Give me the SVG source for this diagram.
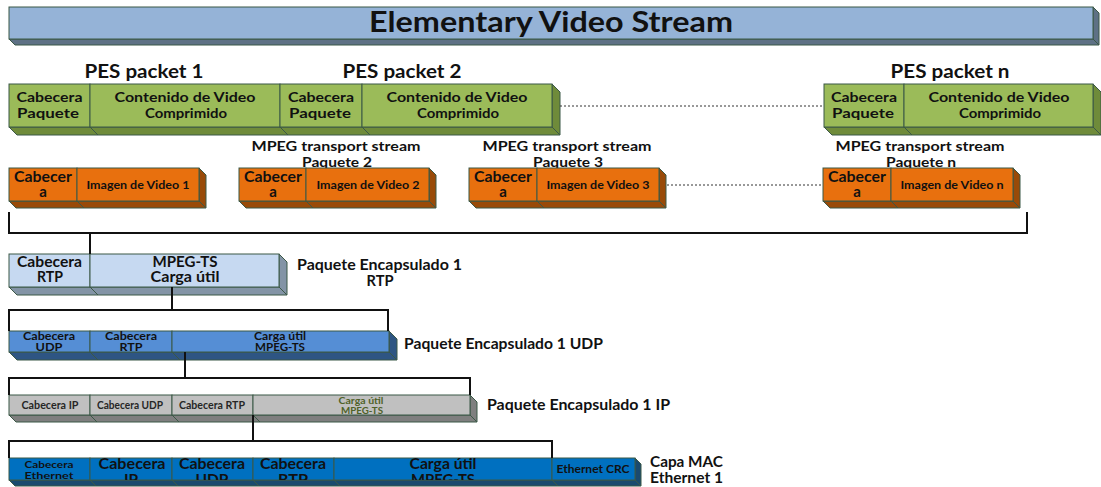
<svg xmlns="http://www.w3.org/2000/svg" width="1101" height="487" viewBox="0 0 1101 487">
  <style>
    text { font-family: Lato, "Open Sans", "Liberation Sans", sans-serif; font-weight: bold; fill: #111; text-anchor: middle; }
    .lbl { text-anchor: start; }
    .edge { stroke: #3B5846; stroke-width: 1; }
    .wire { fill: none; stroke: #111; stroke-width: 2; }
    .dots { fill: none; stroke: #333; stroke-width: 1; stroke-dasharray: 2 2; }
    .t-front { fill: #95B3D7; } .t-dark { fill: #5E7185; }
    .g-front { fill: #9BBB59; } .g-dark { fill: #6F8B3A; }
    .o-front { fill: #E8700E; } .o-dark { fill: #994A08; }
    .r-front { fill: #C6D9F1; } .r-dark { fill: #8394A6; }
    .u-front { fill: #558ED5; } .u-dark { fill: #2E5583; }
    .i-front { fill: #C0C0C0; } .i-dark { fill: #7F7F7F; }
    .e-front { fill: #0070C0; } .e-dark { fill: #1A4A6E; }
  </style>
  <defs>
    <clipPath id="eth-clip"><rect x="9" y="458" width="626" height="22"/></clipPath>
  </defs>

  <!-- top bar -->
  <g id="elementary-stream">
    <polygon class="t-dark edge" points="9,39 1093,39 1099,45 15,45"/>
    <polygon class="t-dark edge" points="1093,7 1099,13 1099,45 1093,39"/>
    <rect class="t-front edge" x="9" y="7" width="1084" height="32"/>
    <text x="551" y="32" font-size="28" textLength="364" lengthAdjust="spacingAndGlyphs">Elementary Video Stream</text>
  </g>

  <!-- PES packets 1 and 2 (joined) -->
  <g id="pes-1-2">
    <text x="144" y="78" font-size="19" textLength="119" lengthAdjust="spacingAndGlyphs">PES packet 1</text>
    <text x="402" y="78" font-size="19" textLength="119" lengthAdjust="spacingAndGlyphs">PES packet 2</text>
    <polygon class="g-dark edge" points="9,127 552,127 560,135 17,135"/>
    <polygon class="g-dark edge" points="552,84 560,92 560,135 552,127"/>
    <path class="edge" d="M90,127 L98,135 M280,127 L288,135 M362,127 L370,135"/>
    <rect class="g-front edge" x="9" y="84" width="81" height="43"/>
    <rect class="g-front edge" x="90" y="84" width="190" height="43"/>
    <rect class="g-front edge" x="280" y="84" width="82" height="43"/>
    <rect class="g-front edge" x="362" y="84" width="190" height="43"/>
    <text x="49.5" y="102" font-size="14" textLength="66" lengthAdjust="spacingAndGlyphs">Cabecera</text>
    <text x="48" y="118" font-size="14" textLength="62" lengthAdjust="spacingAndGlyphs">Paquete</text>
    <text x="185" y="102" font-size="14" textLength="141" lengthAdjust="spacingAndGlyphs">Contenido de Video</text>
    <text x="186" y="118" font-size="14" textLength="82" lengthAdjust="spacingAndGlyphs">Comprimido</text>
    <text x="321" y="102" font-size="14" textLength="66" lengthAdjust="spacingAndGlyphs">Cabecera</text>
    <text x="320" y="118" font-size="14" textLength="62" lengthAdjust="spacingAndGlyphs">Paquete</text>
    <text x="457" y="102" font-size="14" textLength="141" lengthAdjust="spacingAndGlyphs">Contenido de Video</text>
    <text x="458" y="118" font-size="14" textLength="82" lengthAdjust="spacingAndGlyphs">Comprimido</text>
  </g>

  <!-- PES packet n -->
  <g id="pes-n">
    <text x="950" y="78" font-size="19" textLength="119" lengthAdjust="spacingAndGlyphs">PES packet n</text>
    <polygon class="g-dark edge" points="824,127 1093,127 1101,135 832,135"/>
    <polygon class="g-dark edge" points="1093,84 1101,92 1101,135 1093,127"/>
    <path class="edge" d="M904,127 L912,135"/>
    <rect class="g-front edge" x="824" y="84" width="80" height="43"/>
    <rect class="g-front edge" x="904" y="84" width="189" height="43"/>
    <text x="864" y="102" font-size="14" textLength="66" lengthAdjust="spacingAndGlyphs">Cabecera</text>
    <text x="863" y="118" font-size="14" textLength="62" lengthAdjust="spacingAndGlyphs">Paquete</text>
    <text x="999" y="102" font-size="14" textLength="141" lengthAdjust="spacingAndGlyphs">Contenido de Video</text>
    <text x="1000" y="118" font-size="14" textLength="82" lengthAdjust="spacingAndGlyphs">Comprimido</text>
  </g>

  <!-- transport stream packets -->
  <g id="ts-1">
    <polygon class="o-dark edge" points="9,201 199,201 206,208 16,208"/>
    <polygon class="o-dark edge" points="199,168 206,175 206,208 199,201"/>
    <path class="edge" d="M77,201 L84,208"/>
    <rect class="o-front edge" x="9" y="168" width="68" height="33"/>
    <rect class="o-front edge" x="77" y="168" width="122" height="33"/>
    <text x="43" y="182" font-size="15" textLength="58" lengthAdjust="spacingAndGlyphs">Cabecer</text>
    <text x="43" y="197" font-size="15">a</text>
    <text x="138" y="189" font-size="11" textLength="103" lengthAdjust="spacingAndGlyphs">Imagen de Video 1</text>
  </g>

  <g id="ts-2">
    <text x="336" y="151" font-size="14" textLength="169" lengthAdjust="spacingAndGlyphs">MPEG transport stream</text>
    <text x="337" y="167" font-size="14" textLength="70" lengthAdjust="spacingAndGlyphs">Paquete 2</text>
    <polygon class="o-dark edge" points="239,201 429,201 436,208 246,208"/>
    <polygon class="o-dark edge" points="429,168 436,175 436,208 429,201"/>
    <path class="edge" d="M306,201 L313,208"/>
    <rect class="o-front edge" x="239" y="168" width="67" height="33"/>
    <rect class="o-front edge" x="306" y="168" width="123" height="33"/>
    <text x="273" y="182" font-size="15" textLength="58" lengthAdjust="spacingAndGlyphs">Cabecer</text>
    <text x="273" y="197" font-size="15">a</text>
    <text x="368" y="189" font-size="11" textLength="103" lengthAdjust="spacingAndGlyphs">Imagen de Video 2</text>
  </g>

  <g id="ts-3">
    <text x="567" y="151" font-size="14" textLength="169" lengthAdjust="spacingAndGlyphs">MPEG transport stream</text>
    <text x="568" y="167" font-size="14" textLength="70" lengthAdjust="spacingAndGlyphs">Paquete 3</text>
    <polygon class="o-dark edge" points="469,201 659,201 666,208 476,208"/>
    <polygon class="o-dark edge" points="659,168 666,175 666,208 659,201"/>
    <path class="edge" d="M537,201 L544,208"/>
    <rect class="o-front edge" x="469" y="168" width="68" height="33"/>
    <rect class="o-front edge" x="537" y="168" width="122" height="33"/>
    <text x="503" y="182" font-size="15" textLength="58" lengthAdjust="spacingAndGlyphs">Cabecer</text>
    <text x="503" y="197" font-size="15">a</text>
    <text x="598" y="189" font-size="11" textLength="103" lengthAdjust="spacingAndGlyphs">Imagen de Video 3</text>
  </g>

  <g id="ts-n">
    <text x="920" y="151" font-size="14" textLength="169" lengthAdjust="spacingAndGlyphs">MPEG transport stream</text>
    <text x="921" y="167" font-size="14" textLength="70" lengthAdjust="spacingAndGlyphs">Paquete n</text>
    <polygon class="o-dark edge" points="823,201 1013,201 1020,208 830,208"/>
    <polygon class="o-dark edge" points="1013,168 1020,175 1020,208 1013,201"/>
    <path class="edge" d="M891,201 L898,208"/>
    <rect class="o-front edge" x="823" y="168" width="68" height="33"/>
    <rect class="o-front edge" x="891" y="168" width="122" height="33"/>
    <text x="857" y="182" font-size="15" textLength="58" lengthAdjust="spacingAndGlyphs">Cabecer</text>
    <text x="857" y="197" font-size="15">a</text>
    <text x="952" y="189" font-size="11" textLength="103" lengthAdjust="spacingAndGlyphs">Imagen de Video n</text>
  </g>

  <!-- RTP packet -->
  <g id="rtp">
    <polygon class="r-dark edge" points="9,287 279,287 287,295 17,295"/>
    <polygon class="r-dark edge" points="279,254 287,262 287,295 279,287"/>
    <path class="edge" d="M90,287 L98,295"/>
    <rect class="r-front edge" x="9" y="254" width="81" height="33"/>
    <rect class="r-front edge" x="90" y="254" width="189" height="33"/>
    <text x="49.5" y="267" font-size="15" textLength="65" lengthAdjust="spacingAndGlyphs">Cabecera</text>
    <text x="50" y="282" font-size="15" textLength="26" lengthAdjust="spacingAndGlyphs">RTP</text>
    <text x="185" y="267" font-size="15" textLength="65" lengthAdjust="spacingAndGlyphs">MPEG-TS</text>
    <text x="185" y="282" font-size="15" textLength="69" lengthAdjust="spacingAndGlyphs">Carga útil</text>
    <text class="lbl" x="297" y="270" font-size="15" textLength="165" lengthAdjust="spacingAndGlyphs">Paquete Encapsulado 1</text>
    <text x="380" y="286" font-size="15" textLength="27" lengthAdjust="spacingAndGlyphs">RTP</text>
  </g>

  <!-- UDP packet -->
  <g id="udp">
    <polygon class="u-dark edge" points="9,352 389,352 397,360 17,360"/>
    <polygon class="u-dark edge" points="389,331 397,339 397,360 389,352"/>
    <path class="edge" d="M90,352 L98,360 M172,352 L180,360"/>
    <rect class="u-front edge" x="9" y="331" width="81" height="21"/>
    <rect class="u-front edge" x="90" y="331" width="82" height="21"/>
    <rect class="u-front edge" x="172" y="331" width="217" height="21"/>
    <text x="49" y="340" font-size="11" textLength="52" lengthAdjust="spacingAndGlyphs">Cabecera</text>
    <text x="49" y="351" font-size="11" textLength="27" lengthAdjust="spacingAndGlyphs">UDP</text>
    <text x="131" y="340" font-size="11" textLength="52" lengthAdjust="spacingAndGlyphs">Cabecera</text>
    <text x="131" y="351" font-size="11" textLength="23" lengthAdjust="spacingAndGlyphs">RTP</text>
    <text x="280" y="340" font-size="11" textLength="52" lengthAdjust="spacingAndGlyphs">Carga útil</text>
    <text x="280" y="351" font-size="11" textLength="50" lengthAdjust="spacingAndGlyphs">MPEG-TS</text>
    <text class="lbl" x="404" y="349" font-size="15" textLength="199" lengthAdjust="spacingAndGlyphs">Paquete Encapsulado 1 UDP</text>
  </g>

  <!-- IP packet -->
  <g id="ip">
    <polygon class="i-dark edge" points="9,415 470,415 477,422 16,422"/>
    <polygon class="i-dark edge" points="470,395 477,402 477,422 470,415"/>
    <path class="edge" d="M90,415 L97,422 M172,415 L179,422 M253,415 L260,422"/>
    <rect class="i-front edge" x="9" y="395" width="81" height="20"/>
    <rect class="i-front edge" x="90" y="395" width="82" height="20"/>
    <rect class="i-front edge" x="172" y="395" width="81" height="20"/>
    <rect class="i-front edge" x="253" y="395" width="217" height="20"/>
    <text x="50" y="409" font-size="10.5" style="fill:#262626" textLength="57" lengthAdjust="spacingAndGlyphs">Cabecera IP</text>
    <text x="130" y="409" font-size="10.5" style="fill:#262626" textLength="66" lengthAdjust="spacingAndGlyphs">Cabecera UDP</text>
    <text x="212" y="409" font-size="10.5" style="fill:#262626" textLength="66" lengthAdjust="spacingAndGlyphs">Cabecera RTP</text>
    <text x="361" y="404" font-size="9" style="fill:#4F6228" textLength="45" lengthAdjust="spacingAndGlyphs">Carga útil</text>
    <text x="362" y="414" font-size="9" style="fill:#4F6228" textLength="42" lengthAdjust="spacingAndGlyphs">MPEG-TS</text>
    <text class="lbl" x="487" y="410" font-size="15" textLength="183" lengthAdjust="spacingAndGlyphs">Paquete Encapsulado 1 IP</text>
  </g>

  <!-- Ethernet frame -->
  <g id="ethernet">
    <polygon class="e-dark edge" points="9,480 635,480 641,486 15,486"/>
    <polygon class="e-dark edge" points="635,458 641,464 641,486 635,480"/>
    <path class="edge" d="M90,480 L96,486 M172,480 L178,486 M253,480 L259,486 M334,480 L340,486 M552,480 L558,486"/>
    <rect class="e-front edge" x="9" y="458" width="81" height="22"/>
    <rect class="e-front edge" x="90" y="458" width="82" height="22"/>
    <rect class="e-front edge" x="172" y="458" width="81" height="22"/>
    <rect class="e-front edge" x="253" y="458" width="81" height="22"/>
    <rect class="e-front edge" x="334" y="458" width="218" height="22"/>
    <rect class="e-front edge" x="552" y="458" width="83" height="22"/>
    <text x="49" y="468" font-size="10" textLength="49" lengthAdjust="spacingAndGlyphs">Cabecera</text>
    <text x="49" y="479" font-size="10" textLength="49" lengthAdjust="spacingAndGlyphs">Ethernet</text>
    <g clip-path="url(#eth-clip)">
      <text x="132" y="469" font-size="15.5" textLength="67" lengthAdjust="spacingAndGlyphs">Cabecera</text>
      <text x="131" y="485" font-size="15.5">IP</text>
      <text x="212" y="469" font-size="15.5" textLength="66" lengthAdjust="spacingAndGlyphs">Cabecera</text>
      <text x="212" y="485" font-size="15.5" textLength="33" lengthAdjust="spacingAndGlyphs">UDP</text>
      <text x="293" y="469" font-size="15.5" textLength="66" lengthAdjust="spacingAndGlyphs">Cabecera</text>
      <text x="293" y="485" font-size="15.5" textLength="30" lengthAdjust="spacingAndGlyphs">RTP</text>
      <text x="443" y="469" font-size="15.5" textLength="67" lengthAdjust="spacingAndGlyphs">Carga útil</text>
      <text x="443" y="485" font-size="15.5" textLength="64" lengthAdjust="spacingAndGlyphs">MPEG-TS</text>
    </g>
    <text x="593" y="473" font-size="10.5" textLength="73" lengthAdjust="spacingAndGlyphs">Ethernet CRC</text>
    <text class="lbl" x="650" y="467" font-size="15" textLength="73" lengthAdjust="spacingAndGlyphs">Capa MAC</text>
    <text class="lbl" x="650" y="483" font-size="15" textLength="73" lengthAdjust="spacingAndGlyphs">Ethernet 1</text>
  </g>

  <!-- connectors: continuation dots and encapsulation brackets -->
  <g id="connectors">
    <line class="dots" x1="560" y1="106" x2="822" y2="106"/>
    <line class="dots" x1="667" y1="185" x2="821" y2="185"/>
    <polyline class="wire" points="9,212 9,233 1027,233 1027,212"/>
    <line class="wire" x1="90" y1="233" x2="90" y2="254"/>
    <line class="wire" x1="172" y1="287" x2="172" y2="310"/>
    <polyline class="wire" points="9,331 9,310 388,310 388,331"/>
    <line class="wire" x1="185" y1="352" x2="185" y2="378"/>
    <polyline class="wire" points="9,395 9,378 470,378 470,395"/>
    <line class="wire" x1="253" y1="415" x2="253" y2="441"/>
    <polyline class="wire" points="9,458 9,441 552,441 552,458"/>
  </g>
</svg>
